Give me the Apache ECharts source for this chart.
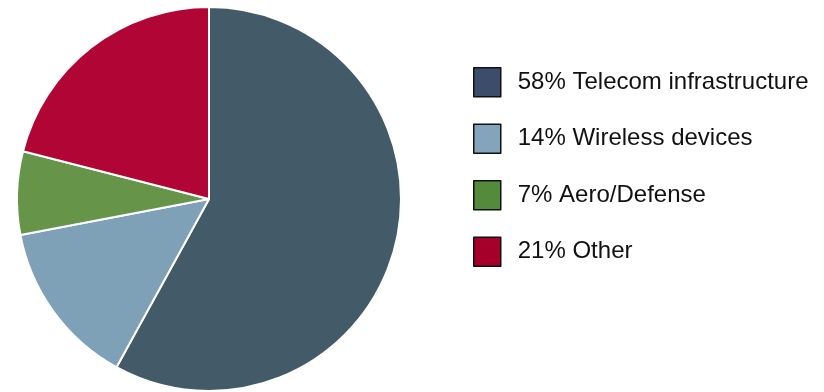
<!DOCTYPE html>
<html>
<head>
<meta charset="utf-8">
<script src="https://cdn.jsdelivr.net/npm/echarts@6/dist/echarts.min.js"></script>
<style>
  html, body { margin: 0; padding: 0; background: #fff; }
  #chart { width: 824px; height: 392px; }
</style>
</head>
<body>
<div id="chart"></div>
<script>
// Revenue share by end market
const categories = ['Telecom infrastructure', 'Wireless devices', 'Aero/Defense', 'Other'];
const shares = [58, 14, 7, 21];
const sliceColors = ['#435a68', '#7ea1b8', '#66954a', '#b10535'];
const keyColors = ['#3c4d6b', '#84a4bb', '#548a3c', '#a5002a'];

const chart = echarts.init(document.getElementById('chart'), null, { renderer: 'canvas' });

chart.setOption({
  animation: false,
  backgroundColor: '#ffffff',
  legend: {
    orient: 'vertical',
    left: 468,
    top: 62,
    padding: 5,
    itemWidth: 27,
    itemHeight: 29,
    itemGap: 26,
    icon: 'rect',
    selectedMode: false,
    data: categories.map((name, i) => ({
      name,
      itemStyle: { color: keyColors[i], borderColor: '#111111', borderWidth: 1.5 }
    })),
    formatter: name => shares[categories.indexOf(name)] + '% ' + name,
    textStyle: {
      fontFamily: 'Liberation Sans, Arial, sans-serif',
      fontSize: 24,
      color: '#111111',
      padding: [0, 0, 0, 12]
    }
  },
  series: [{
    type: 'pie',
    center: [209, 199],
    radius: 192,
    startAngle: 90,
    clockwise: true,
    label: { show: false },
    labelLine: { show: false },
    emphasis: { disabled: true },
    itemStyle: { borderColor: '#ffffff', borderWidth: 2 },
    data: categories.map((name, i) => ({
      name,
      value: shares[i],
      itemStyle: { color: sliceColors[i] }
    }))
  }]
});
</script>
</body>
</html>
